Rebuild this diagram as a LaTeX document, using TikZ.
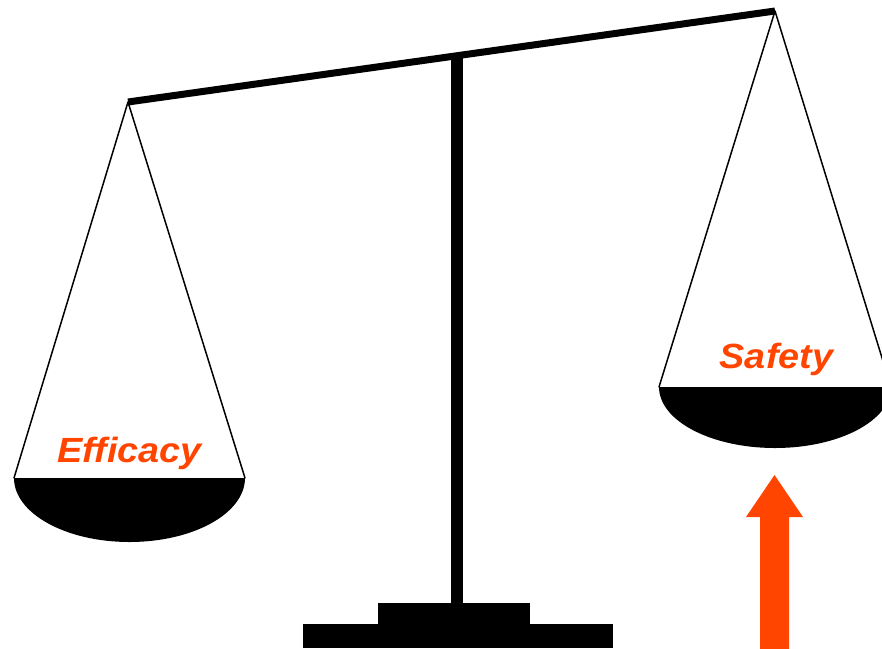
\documentclass[tikz,border=0pt]{standalone}
\usepackage{fontspec}
\newfontfamily\panfont{Liberation Sans}
\definecolor{weightred}{RGB}{255,69,0}
\tikzset{panlabel/.style={anchor=base, inner sep=0pt, xscale=1.08, text=weightred, font=\panfont\bfseries\itshape\fontsize{35}{40}\selectfont}}
\begin{document}
\begin{tikzpicture}[x=1pt, y=-1pt, line cap=round, line join=round]
  \clip (0,0) rectangle (882,648);
  % Pivot points of the beam and the pans
  \coordinate (lefttip) at (128,102);
  \coordinate (righttip) at (775,11);
  \coordinate (lpanL) at (14,478);
  \coordinate (lpanR) at (245,478);
  \coordinate (rpanL) at (659,387);
  \coordinate (rpanR) at (891,387);
  % Base and post
  \fill (378,603) rectangle (530,626);
  \fill (303,624) rectangle (613,648);
  \draw[line width=12pt, line cap=butt] (456.5,56) -- (456.5,606);
  % Beam, tilted toward the efficacy side
  \draw[line width=7pt, line cap=butt] (lefttip) -- (righttip);
  % Strings
  \draw[line width=1.5pt] (lpanL) -- (lefttip) -- (lpanR);
  \draw[line width=1.5pt] (rpanL) -- (righttip) -- (rpanR);
  % Bowls (half ellipses)
  \fill (lpanL) arc[start angle=180, end angle=0, x radius=115.5, y radius=64] -- cycle;
  \fill (rpanL) arc[start angle=180, end angle=0, x radius=116, y radius=61] -- cycle;
  % Labels
  \node[panlabel] (efficacy) at (129.5,462) {Efficacy};
  \node[panlabel] (safety) at (776.5,368) {Safety};
  % Arrow pushing the safety pan up
  \fill[weightred] (760,650) -- (760,517) -- (746,517) -- (774.5,475) -- (803,517) -- (789,517) -- (789,650) -- cycle;
\end{tikzpicture}
\end{document}
